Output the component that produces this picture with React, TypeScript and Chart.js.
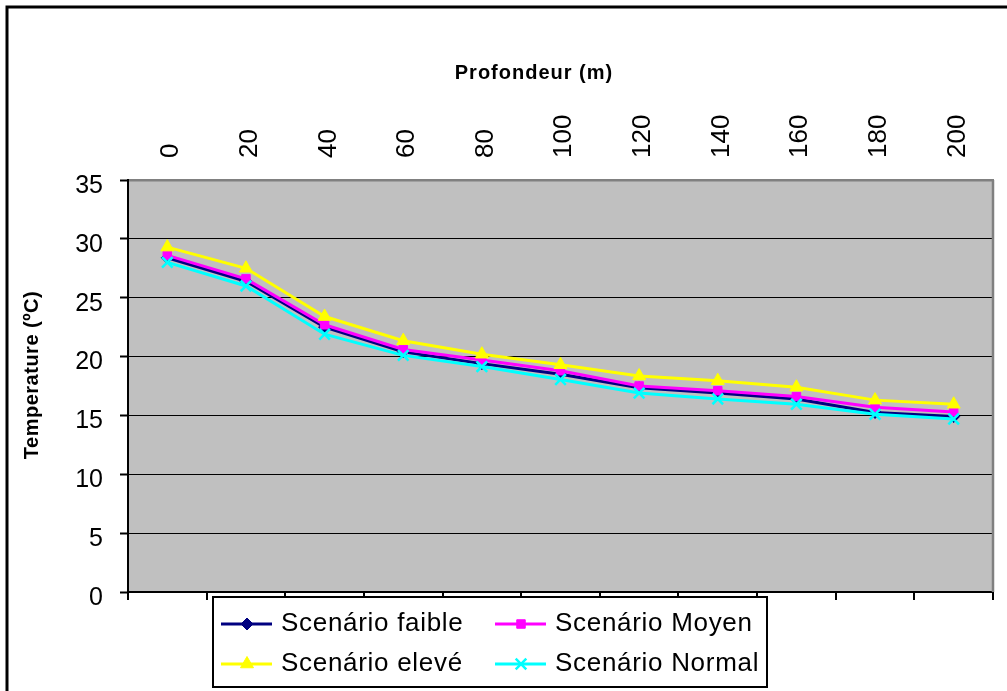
import React, { useEffect, useRef } from 'react';
import { Chart, registerables } from 'chart.js';
import { drawPoint } from 'chart.js/helpers';

Chart.register(...registerables);

const depthLabels = ['0', '20', '40', '60', '80', '100', '120', '140', '160', '180', '200'];
const faible = [28.4, 26.4, 22.5, 20.4, 19.4, 18.5, 17.35, 16.9, 16.4, 15.25, 14.9];
const moyen = [28.6, 26.6, 22.7, 20.6, 19.7, 18.8, 17.5, 17.1, 16.6, 15.7, 15.3];
const eleve = [29.3, 27.5, 23.4, 21.35, 20.2, 19.3, 18.35, 17.95, 17.4, 16.3, 15.95];
const normal = [28.0, 26.0, 21.9, 20.1, 19.15, 18.05, 16.9, 16.4, 15.95, 15.1, 14.7];
const seriesNames = ['Scenário faible', 'Scenário Moyen', 'Scenário elevé', 'Scenário Normal'];
const xTitle = 'Profondeur (m)';
const yTitle = 'Temperature (ºC)';
const yMin = 0;
const yMax = 35;
const yStep = 5;

const FONT = "'Liberation Sans', Arial, sans-serif";

const seriesStyles = [
  { color: '#000080', pointStyle: 'rectRot', radius: 6, width: 1 },
  { color: '#FF00FF', pointStyle: 'rect', radius: 6, width: 1 },
  { color: '#FFFF00', pointStyle: 'triangle', radius: 7.5, width: 1 },
  { color: '#00FFFF', pointStyle: 'crossRot', radius: 7.5, width: 2.5 },
];

const decorPlugin = {
  id: 'decor',
  beforeDraw(chart: any) {
    const { ctx, chartArea } = chart;
    ctx.save();
    ctx.fillStyle = '#fff';
    ctx.fillRect(0, 0, chart.width, chart.height);
    ctx.fillStyle = '#C0C0C0';
    ctx.fillRect(chartArea.left, chartArea.top, chartArea.right - chartArea.left, chartArea.bottom - chartArea.top);
    ctx.restore();
  },
  beforeDatasetsDraw(chart: any) {
    const { ctx, chartArea } = chart;
    ctx.save();
    ctx.strokeStyle = '#808080';
    ctx.lineWidth = 2.5;
    ctx.beginPath();
    ctx.moveTo(chartArea.right, chartArea.top);
    ctx.lineTo(chartArea.right, chartArea.bottom);
    ctx.stroke();
    ctx.restore();
  },
  afterDraw(chart: any) {
    const { ctx } = chart;
    ctx.save();
    // outer frame
    ctx.strokeStyle = '#000';
    ctx.lineWidth = 3;
    ctx.strokeRect(7, 7, 1200, 1200);

    // titles
    ctx.fillStyle = '#000';
    ctx.font = `bold 20px ${FONT}`;
    (ctx as any).letterSpacing = '1px';
    ctx.textAlign = 'center';
    ctx.textBaseline = 'middle';
    ctx.fillText(xTitle, 534, 73);
    ctx.translate(32, 375);
    ctx.rotate(-Math.PI / 2);
    (ctx as any).letterSpacing = '0.5px';
    ctx.fillText(yTitle, 0, 0);
    ctx.setTransform(1, 0, 0, 1, 0, 0);

    // legend
    const bx = 213, by = 597, bw = 554, bh = 90;
    ctx.fillStyle = '#fff';
    ctx.fillRect(bx, by, bw, bh);
    ctx.strokeStyle = '#000';
    ctx.lineWidth = 2;
    ctx.strokeRect(bx, by, bw, bh);
    const cols = [221, 495];
    const rows = [624, 664];
    ctx.font = `26px ${FONT}`;
    (ctx as any).letterSpacing = '0.7px';
    ctx.textAlign = 'left';
    ctx.textBaseline = 'middle';
    seriesNames.forEach((name, i) => {
      const cx = cols[i % 2];
      const cy = rows[Math.floor(i / 2)];
      const st = seriesStyles[i];
      ctx.strokeStyle = st.color;
      ctx.lineWidth = 3;
      ctx.beginPath();
      ctx.moveTo(cx, cy);
      ctx.lineTo(cx + 51, cy);
      ctx.stroke();
      ctx.fillStyle = st.color;
      ctx.strokeStyle = st.color;
      ctx.lineWidth = st.width;
      drawPoint(ctx, { pointStyle: st.pointStyle as any, radius: st.radius, rotation: 0, borderWidth: st.width }, cx + 26, cy);
      ctx.fillStyle = '#000';
      ctx.fillText(name, cx + 60, cy);
    });
    (ctx as any).letterSpacing = '0px';
    ctx.restore();
  },
};

export default function App() {
  const canvasRef = useRef<HTMLCanvasElement | null>(null);

  useEffect(() => {
    if (!canvasRef.current) return;
    Chart.defaults.font.family = FONT;
    const allSeries = [faible, moyen, eleve, normal];
    const orders = [3, 2, 1, 0];
    const chart = new Chart(canvasRef.current, {
      type: 'line',
      data: {
        labels: depthLabels,
        datasets: allSeries.map((values, i) => ({
          label: seriesNames[i],
          data: values,
          borderColor: seriesStyles[i].color,
          backgroundColor: seriesStyles[i].color,
          borderWidth: 3,
          pointStyle: seriesStyles[i].pointStyle as any,
          pointRadius: seriesStyles[i].radius,
          pointBorderWidth: seriesStyles[i].width,
          pointBackgroundColor: seriesStyles[i].color,
          pointBorderColor: seriesStyles[i].color,
          tension: 0,
          order: orders[i],
        })),
      },
      options: {
        responsive: false,
        animation: false,
        events: [],
        layout: { padding: { left: 0, right: 14, top: 0, bottom: 0 } },
        plugins: {
          legend: { display: false },
          tooltip: { enabled: false },
          title: { display: false },
        },
        scales: {
          x: {
            type: 'category',
            position: 'top',
            offset: true,
            ticks: {
              font: { size: 26 },
              color: '#000',
              minRotation: 90,
              maxRotation: 90,
              padding: 22,
              labelOffset: 35,
              autoSkip: false,
            },
            grid: { display: true, drawOnChartArea: false, drawTicks: false, color: '#808080' },
            border: { display: true, color: '#808080', width: 2.5 },
            afterFit: (s: any) => { s.height = 180; },
          },
          x2: {
            type: 'category',
            position: 'bottom',
            labels: depthLabels,
            offset: true,
            ticks: { display: false },
            grid: {
              display: true,
              drawOnChartArea: false,
              drawTicks: true,
              offset: true,
              tickLength: 8,
              color: '#000',
              lineWidth: 2,
            },
            border: { display: true, color: '#000', width: 2 },
            afterFit: (s: any) => { s.height = 99; },
          },
          y: {
            min: yMin,
            max: yMax,
            ticks: {
              stepSize: yStep,
              font: { size: 25 },
              color: '#000',
              padding: 17,
              labelOffset: 6,
            },
            grid: {
              color: (c: any) => (c.tick && c.tick.value === yMax ? '#808080' : '#000'),
              lineWidth: 1,
              tickLength: 8,
              tickColor: '#000',
              tickWidth: 2,
            },
            border: { display: true, color: '#000', width: 2 },
            afterFit: (s: any) => { s.width = 128; },
          },
        },
      },
      plugins: [decorPlugin],
    });
    return () => chart.destroy();
  }, []);

  return (
    <div style={{ position: 'absolute', left: 0, top: 0, width: 1007, height: 691 }}>
      <canvas ref={canvasRef} width={1007} height={691} style={{ display: 'block' }} />
    </div>
  );
}
